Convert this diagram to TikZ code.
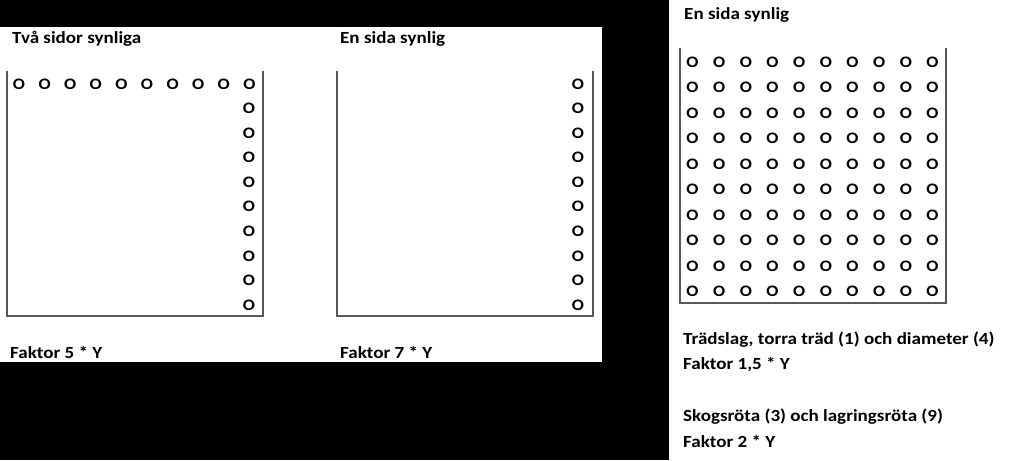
\documentclass[tikz,border=0pt]{standalone}
\usepackage{fontspec}
\setmainfont{Carlito}[FakeStretch=1.12]
\usetikzlibrary{positioning}
\tikzset{
  panel/.style={fill=white,draw=none},
  heading/.style={anchor=west,inner sep=0pt,font=\bfseries\fontsize{17}{20}\selectfont},
  tree/.style={inner sep=0pt,font=\bfseries\fontsize{16}{19}\selectfont},
  tray/.style={draw=black!65,line width=1.3pt}
}

\begin{document}
\begin{tikzpicture}[x=1pt,y=-1pt]
  \fill[black] (0,0) rectangle (1024,460);
  \useasboundingbox (0,0) rectangle (1024,460);
  \fill[panel] (0,27) rectangle (602,362);
  \fill[panel] (669,0) rectangle (1024,460);

  % two sides visible
  \node[heading] (two) at (12,39) {Två sidor synliga};
  \draw[tray] (7,71) -- (7,316) -- (263,316) -- (263,71);
  \foreach \i in {0,...,9}
    \node[tree] (a-\i) at ({19+25.6*\i},84) {O};
  \foreach \j in {1,...,9}
    \node[tree] (b-\j) at (249,{84+24.55*\j}) {O};
  \node[heading] (f5) at (10,352) {Faktor 5 * Y};

  % one side visible
  \node[heading, right=0pt of two.west, xshift=328pt, anchor=west] (one) {En sida synlig};
  \draw[tray] (337,71) -- (337,316) -- (593,316) -- (593,71);
  \foreach \j in {0,...,9}
    \node[tree] (c-\j) at (578,{84+24.55*\j}) {O};
  \node[heading] (f7) at (340,352) {Faktor 7 * Y};

  % full stack
  \node[heading] (full) at (684,15) {En sida synlig};
  \draw[tray] (680,48) -- (680,303) -- (946,303) -- (946,48);
  \foreach \i in {0,...,9}
    \foreach \j in {0,...,9}
      \node[tree] (g-\i-\j) at ({692.5+26.67*\i},{62+25.5*\j}) {O};
  \node[heading] (trad) at (683,340) {Trädslag, torra träd (1) och diameter (4)};
  \node[heading, below=25pt of trad.west, anchor=west] (f15) {Faktor 1,5 * Y};
  \node[heading] (rot) at (683,417) {Skogsröta (3) och lagringsröta (9)};
  \node[heading, below=24pt of rot.west, anchor=west] (f2) {Faktor 2 * Y};
\end{tikzpicture}
\end{document}
